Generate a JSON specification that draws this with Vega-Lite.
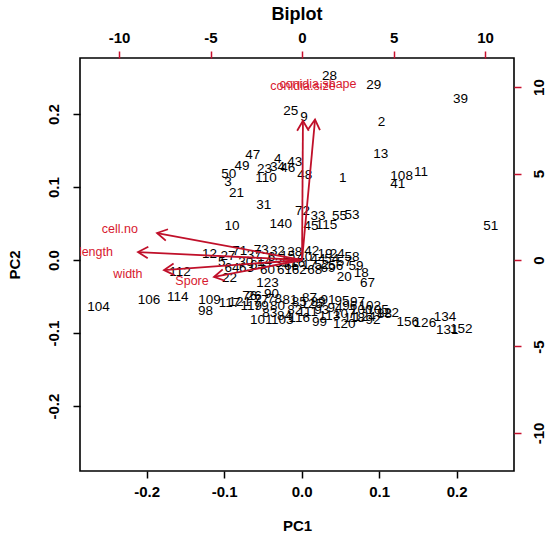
{
  "$schema": "https://vega.github.io/schema/vega-lite/v6.json",
  "width": 434,
  "height": 413,
  "autosize": "none",
  "padding": {"left": 80, "top": 58, "right": 36, "bottom": 69},
  "background": "white",
  "title": {"text": "Biplot", "fontSize": 18, "fontWeight": "bold", "color": "black", "offset": 6},
  "config": {"font": "Liberation Sans", "view": {"stroke": "black", "strokeWidth": 1.6}},
  "datasets": {
    "scores": [
      {"id": "28", "pc1": 0.036, "pc2": 0.253},
      {"id": "29", "pc1": 0.093, "pc2": 0.240},
      {"id": "39", "pc1": 0.205, "pc2": 0.221},
      {"id": "25", "pc1": -0.014, "pc2": 0.205},
      {"id": "9", "pc1": 0.003, "pc2": 0.196},
      {"id": "2", "pc1": 0.103, "pc2": 0.189},
      {"id": "13", "pc1": 0.102, "pc2": 0.145},
      {"id": "108", "pc1": 0.129, "pc2": 0.115},
      {"id": "11", "pc1": 0.154, "pc2": 0.121},
      {"id": "41", "pc1": 0.124, "pc2": 0.105},
      {"id": "1", "pc1": 0.053, "pc2": 0.112},
      {"id": "47", "pc1": -0.063, "pc2": 0.144},
      {"id": "49", "pc1": -0.077, "pc2": 0.129},
      {"id": "4", "pc1": -0.031, "pc2": 0.138},
      {"id": "43", "pc1": -0.009, "pc2": 0.134},
      {"id": "23", "pc1": -0.048, "pc2": 0.125},
      {"id": "34", "pc1": -0.031, "pc2": 0.127},
      {"id": "46", "pc1": -0.018, "pc2": 0.126},
      {"id": "48", "pc1": 0.004, "pc2": 0.116},
      {"id": "50", "pc1": -0.094, "pc2": 0.118},
      {"id": "3", "pc1": -0.095, "pc2": 0.107},
      {"id": "110", "pc1": -0.046, "pc2": 0.112},
      {"id": "21", "pc1": -0.084, "pc2": 0.092},
      {"id": "31", "pc1": -0.049, "pc2": 0.075},
      {"id": "10", "pc1": -0.090, "pc2": 0.047},
      {"id": "140", "pc1": -0.027, "pc2": 0.049},
      {"id": "72", "pc1": 0.001, "pc2": 0.068},
      {"id": "33", "pc1": 0.021, "pc2": 0.060},
      {"id": "55", "pc1": 0.049, "pc2": 0.060},
      {"id": "53", "pc1": 0.065, "pc2": 0.062},
      {"id": "45", "pc1": 0.012, "pc2": 0.047},
      {"id": "115", "pc1": 0.032, "pc2": 0.048},
      {"id": "51", "pc1": 0.244, "pc2": 0.047},
      {"id": "104", "pc1": -0.262, "pc2": -0.064},
      {"id": "106", "pc1": -0.197, "pc2": -0.055},
      {"id": "114", "pc1": -0.160, "pc2": -0.051},
      {"id": "109", "pc1": -0.119, "pc2": -0.055},
      {"id": "98", "pc1": -0.124, "pc2": -0.070},
      {"id": "117", "pc1": -0.093, "pc2": -0.059},
      {"id": "112", "pc1": -0.157, "pc2": -0.016},
      {"id": "22", "pc1": -0.093, "pc2": -0.025},
      {"id": "123", "pc1": -0.044, "pc2": -0.032},
      {"id": "26", "pc1": -0.061, "pc2": -0.049},
      {"id": "90", "pc1": -0.039, "pc2": -0.047},
      {"id": "101", "pc1": -0.052, "pc2": -0.082},
      {"id": "103", "pc1": -0.025, "pc2": -0.082},
      {"id": "99", "pc1": 0.023, "pc2": -0.085},
      {"id": "120", "pc1": 0.055, "pc2": -0.088},
      {"id": "92", "pc1": 0.092, "pc2": -0.082},
      {"id": "88", "pc1": 0.107, "pc2": -0.074},
      {"id": "156", "pc1": 0.137, "pc2": -0.085},
      {"id": "126", "pc1": 0.159, "pc2": -0.086},
      {"id": "134", "pc1": 0.185, "pc2": -0.078},
      {"id": "131", "pc1": 0.188, "pc2": -0.096},
      {"id": "152", "pc1": 0.206, "pc2": -0.095},
      {"id": "20", "pc1": 0.055, "pc2": -0.023},
      {"id": "18", "pc1": 0.077, "pc2": -0.018},
      {"id": "67", "pc1": 0.085, "pc2": -0.032},
      {"id": "12", "pc1": -0.119, "pc2": 0.008},
      {"id": "5", "pc1": -0.103, "pc2": -0.003},
      {"id": "27", "pc1": -0.095, "pc2": 0.005},
      {"id": "71", "pc1": -0.080, "pc2": 0.012},
      {"id": "30", "pc1": -0.072, "pc2": -0.003},
      {"id": "37", "pc1": -0.061, "pc2": 0.007},
      {"id": "73", "pc1": -0.052, "pc2": 0.014},
      {"id": "14", "pc1": -0.048, "pc2": -0.003},
      {"id": "6", "pc1": -0.039, "pc2": 0.004},
      {"id": "32", "pc1": -0.031, "pc2": 0.012},
      {"id": "35", "pc1": -0.025, "pc2": -0.004},
      {"id": "15", "pc1": -0.018, "pc2": 0.005},
      {"id": "38", "pc1": -0.009, "pc2": 0.011},
      {"id": "16", "pc1": -0.005, "pc2": -0.004},
      {"id": "40", "pc1": 0.004, "pc2": 0.004},
      {"id": "42", "pc1": 0.013, "pc2": 0.012},
      {"id": "17", "pc1": 0.010, "pc2": -0.007},
      {"id": "44", "pc1": 0.021, "pc2": 0.001},
      {"id": "19", "pc1": 0.030, "pc2": 0.008},
      {"id": "52", "pc1": 0.026, "pc2": -0.007},
      {"id": "54", "pc1": 0.039, "pc2": 0.001},
      {"id": "24", "pc1": 0.046, "pc2": 0.008},
      {"id": "56", "pc1": 0.044, "pc2": -0.008},
      {"id": "57", "pc1": 0.055, "pc2": -0.003},
      {"id": "58", "pc1": 0.065, "pc2": 0.004},
      {"id": "59", "pc1": 0.070, "pc2": -0.008},
      {"id": "60", "pc1": -0.044, "pc2": -0.014},
      {"id": "61", "pc1": -0.022, "pc2": -0.014},
      {"id": "62", "pc1": -0.003, "pc2": -0.014},
      {"id": "63", "pc1": -0.071, "pc2": -0.011},
      {"id": "64", "pc1": -0.090, "pc2": -0.011},
      {"id": "65", "pc1": -0.057, "pc2": -0.007},
      {"id": "66", "pc1": -0.013, "pc2": -0.008},
      {"id": "68", "pc1": 0.017, "pc2": -0.014},
      {"id": "69", "pc1": 0.034, "pc2": -0.011},
      {"id": "76", "pc1": -0.067, "pc2": -0.049},
      {"id": "77", "pc1": -0.052, "pc2": -0.055},
      {"id": "78", "pc1": -0.035, "pc2": -0.053},
      {"id": "79", "pc1": -0.052, "pc2": -0.063},
      {"id": "80", "pc1": -0.031, "pc2": -0.063},
      {"id": "81", "pc1": -0.015, "pc2": -0.055},
      {"id": "82", "pc1": -0.009, "pc2": -0.068},
      {"id": "83", "pc1": -0.041, "pc2": -0.073},
      {"id": "84", "pc1": -0.022, "pc2": -0.077},
      {"id": "85", "pc1": -0.003, "pc2": -0.058},
      {"id": "87", "pc1": 0.010, "pc2": -0.052},
      {"id": "89", "pc1": 0.021, "pc2": -0.058},
      {"id": "91", "pc1": 0.034, "pc2": -0.055},
      {"id": "93", "pc1": 0.026, "pc2": -0.068},
      {"id": "94", "pc1": 0.043, "pc2": -0.066},
      {"id": "95", "pc1": 0.052, "pc2": -0.056},
      {"id": "96", "pc1": 0.062, "pc2": -0.063},
      {"id": "97", "pc1": 0.072, "pc2": -0.058},
      {"id": "100", "pc1": 0.077, "pc2": -0.068},
      {"id": "102", "pc1": 0.088, "pc2": -0.063},
      {"id": "105", "pc1": 0.098, "pc2": -0.068},
      {"id": "107", "pc1": 0.055, "pc2": -0.074},
      {"id": "111", "pc1": 0.008, "pc2": -0.071},
      {"id": "113", "pc1": 0.036, "pc2": -0.077},
      {"id": "116", "pc1": -0.003, "pc2": -0.079},
      {"id": "118", "pc1": 0.068, "pc2": -0.079},
      {"id": "119", "pc1": -0.065, "pc2": -0.063},
      {"id": "121", "pc1": -0.080, "pc2": -0.058},
      {"id": "122", "pc1": 0.111, "pc2": -0.073},
      {"id": "124", "pc1": 0.081, "pc2": -0.078},
      {"id": "125", "pc1": 0.013, "pc2": -0.060}
    ],
    "loadings": [
      {"var": "cell.no", "ox": 0, "oy": 0, "ax": -7.92, "ay": 1.56, "lx": -9.95, "ly": 1.79, "ang": 191},
      {"var": "length", "ox": 0, "oy": 0, "ax": -8.96, "ay": 0.46, "lx": -11.26, "ly": 0.46, "ang": 183},
      {"var": "width", "ox": 0, "oy": 0, "ax": -7.54, "ay": -0.58, "lx": -9.51, "ly": -0.81, "ang": 176},
      {"var": "Spore", "ox": 0, "oy": 0, "ax": -4.81, "ay": -0.98, "lx": -6.01, "ly": -1.21, "ang": 169},
      {"var": "conidia.shape", "ox": 0, "oy": 0, "ax": 0.71, "ay": 8.12, "lx": 0.87, "ly": 10.15, "ang": 275},
      {"var": "conidia.size", "ox": 0, "oy": 0, "ax": 0.05, "ay": 8.05, "lx": 0.05, "ly": 10.06, "ang": 270}
    ]
  },
  "layer": [
    {
      "data": {"name": "scores"},
      "mark": {"type": "text", "fontSize": 13.5, "color": "black", "align": "center", "baseline": "middle", "clip": true},
      "encoding": {
        "x": {
          "field": "pc1", "type": "quantitative",
          "scale": {"domain": [-0.286, 0.274], "nice": false, "zero": false},
          "axis": {"orient": "bottom", "values": [-0.2, -0.1, 0, 0.1, 0.2], "format": ".1f",
            "labelExpr": "replace(datum.label, '\u2212', '-')",
            "title": "PC1", "domain": false, "grid": false, "tickSize": 7, "tickWidth": 1.5, "tickColor": "black",
            "labelFontSize": 15, "labelFontWeight": "bold", "labelColor": "black", "labelPadding": 6,
            "titleFontSize": 15, "titleFontWeight": "bold", "titleColor": "black", "titlePadding": 19}
        },
        "y": {
          "field": "pc2", "type": "quantitative",
          "scale": {"domain": [-0.289, 0.277], "nice": false, "zero": false},
          "axis": {"orient": "left", "values": [-0.2, -0.1, 0, 0.1, 0.2], "format": ".1f",
            "labelExpr": "replace(datum.label, '\u2212', '-')",
            "title": "PC2", "domain": false, "grid": false, "tickSize": 7, "tickWidth": 1.5, "tickColor": "black",
            "labelAngle": 270, "labelAlign": "center", "labelBaseline": "bottom",
            "labelFontSize": 15, "labelFontWeight": "bold", "labelColor": "black", "labelPadding": 12,
            "titleFontSize": 15, "titleFontWeight": "bold", "titleColor": "black", "titlePadding": 24}
        },
        "text": {"field": "id"}
      }
    },
    {
      "data": {"name": "loadings"},
      "layer": [
        {
          "mark": {"type": "rule", "color": "#c0102a", "strokeWidth": 1.8},
          "encoding": {
            "x": {
              "field": "ox", "type": "quantitative",
              "scale": {"domain": [-12.13, 11.58], "nice": false, "zero": false},
              "axis": {"orient": "top", "values": [-10, -5, 0, 5, 10], "format": "d",
                "labelExpr": "replace(datum.label, '\u2212', '-')",
                "title": null, "domain": false, "grid": false, "tickSize": 7, "tickWidth": 1.5, "tickColor": "#c8102e",
                "labelFontSize": 15, "labelFontWeight": "bold", "labelColor": "black", "labelPadding": 6}
            },
            "x2": {"field": "ax"},
            "y": {
              "field": "oy", "type": "quantitative",
              "scale": {"domain": [-12.2, 11.68], "nice": false, "zero": false},
              "axis": {"orient": "right", "values": [-10, -5, 0, 5, 10], "format": "d",
                "labelExpr": "replace(datum.label, '\u2212', '-')",
                "title": null, "domain": false, "grid": false, "tickSize": 7, "tickWidth": 1.5, "tickColor": "#c8102e",
                "labelAngle": 270, "labelAlign": "center", "labelBaseline": "top",
                "labelFontSize": 15, "labelFontWeight": "bold", "labelColor": "black", "labelPadding": 10}
            },
            "y2": {"field": "ay"}
          }
        },
        {
          "mark": {"type": "point", "shape": "M-1,-0.58L0,0L-1,0.58", "filled": false, "color": "#c0102a", "strokeWidth": 1.8, "size": 400, "opacity": 1},
          "encoding": {
            "x": {"field": "ax", "type": "quantitative"},
            "y": {"field": "ay", "type": "quantitative"},
            "angle": {"field": "ang", "type": "quantitative", "scale": null}
          }
        },
        {
          "mark": {"type": "text", "fontSize": 12.5, "color": "#d7192f", "align": "center", "baseline": "middle", "clip": true},
          "encoding": {
            "x": {"field": "lx", "type": "quantitative"},
            "y": {"field": "ly", "type": "quantitative"},
            "text": {"field": "var"}
          }
        }
      ]
    }
  ],
  "resolve": {"scale": {"x": "independent", "y": "independent"}}
}
